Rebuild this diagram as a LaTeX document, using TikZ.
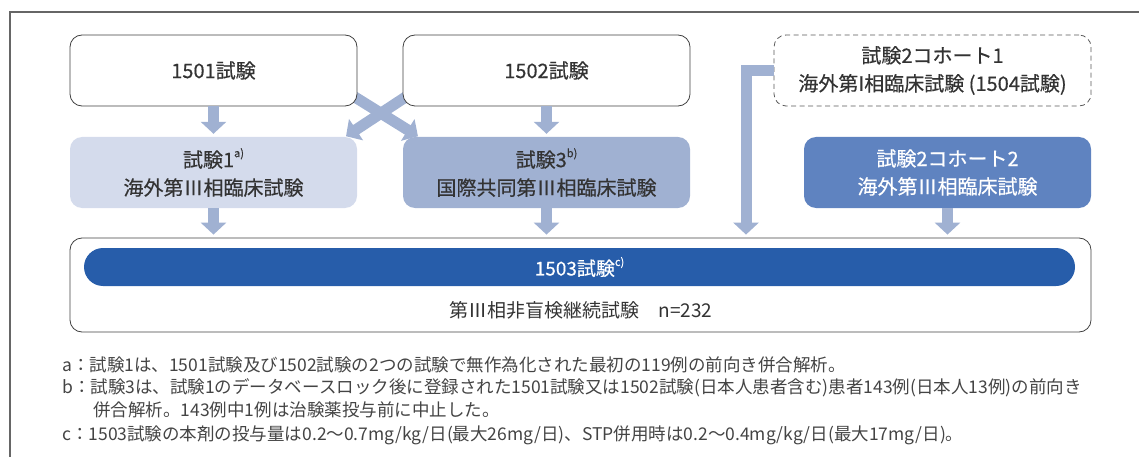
\documentclass[tikz,border=0pt]{standalone}
\usepackage{fontspec}
\setmainfont{Noto Sans CJK JP}
\newfontfamily\boxfont[FakeBold=0.4]{Noto Sans CJK JP}
\usetikzlibrary{arrows.meta,backgrounds}
\definecolor{paleblue}{HTML}{D4DBEC}
\definecolor{midblue}{HTML}{A0B1D2}
\definecolor{cohortblue}{HTML}{5F83C0}
\definecolor{barblue}{HTML}{275DAA}
\definecolor{textgray}{HTML}{333333}
\definecolor{notegray}{HTML}{444444}
\definecolor{framegray}{HTML}{666666}
\newcommand\supmark[1]{\raisebox{0.5em}{\fontsize{11}{11}\selectfont #1}}
\tikzset{
  trialbox/.style={rounded corners=12pt,minimum width=287pt,minimum height=71pt,
    align=center,text=textgray,font=\boxfont\fontsize{20}{28}\selectfont},
  whitebox/.style={trialbox,draw=black!75,line width=0.8pt,fill=white},
  flow/.style={draw=midblue,line width=11pt,-{Triangle[width=25pt,length=12pt]},shorten >=3pt},
  note/.style={anchor=west,inner sep=0pt,text=notegray,font=\fontsize{17.5}{20}\selectfont},
}
\begin{document}
\begin{tikzpicture}[x=1pt,y=-1pt]
\useasboundingbox (0,0) rectangle (1139,457);
\draw[framegray,line width=1.2pt] (10,457) -- (10,12) -- (1139,12);

\node[whitebox] (s1501) at (213.5,70.5) {1501試験};
\node[whitebox] (s1502) at (546.5,70.5) {1502試験};
\node[trialbox,draw=black!65,dash pattern=on 5pt off 3.5pt,line width=0.8pt,minimum width=317pt] (coh1) at (932.5,70.5) {試験2コホート1\\海外第I相臨床試験 (1504試験)};
\node[trialbox,fill=paleblue] (trial1) at (213.5,172.5) {試験1\supmark{a)}\\海外第Ⅲ相臨床試験};
\node[trialbox,fill=midblue] (trial3) at (546.5,172.5) {試験3\supmark{b)}\\国際共同第Ⅲ相臨床試験};
\node[trialbox,fill=cohortblue,text=white] (coh2) at (947.5,172.5) {試験2コホート2\\海外第Ⅲ相臨床試験};

\node[draw=black!75,line width=0.8pt,rounded corners=12pt,minimum width=1021pt,minimum height=94pt] (ext) at (580.5,285) {};
\node[fill=barblue,rounded corners=19pt,minimum width=991pt,minimum height=38pt,text=white,
  font=\boxfont\fontsize{19}{20}\selectfont] (bar) at (579.5,267) {1503試験\supmark{c)}};
\node[text=textgray,font=\fontsize{19}{20}\selectfont] (openlabel) at (581,310) {第Ⅲ相非盲検継続試験　n=232};

\begin{pgfonlayer}{background}
\draw[flow,shorten >=1pt] ([xshift=-10pt,yshift=14pt]s1501.south east) -- ([xshift=16pt]trial3.north west);
\draw[flow,shorten >=1pt] ([xshift=10pt,yshift=14pt]s1502.south west) -- ([xshift=-12pt]trial1.north east);
\end{pgfonlayer}
\draw[flow] (s1501) -- (trial1);
\draw[flow] (s1502) -- (trial3);
\draw[flow] (trial1.south) -- (trial1.south |- ext.north);
\draw[flow] (trial3.south) -- (trial3.south |- ext.north);
\draw[flow] (coh2.south) -- (coh2.south |- ext.north);
\coordinate (bend) at (746,71);
\draw[flow] (coh1.west |- bend) -- (bend) -- (bend |- ext.north);

\node[note] (notea) at (62,365) {a：試験1は、1501試験及び1502試験の2つの試験で無作為化された最初の119例の前向き併合解析。};
\node[note] (noteb) at (62,388) {b：試験3は、試験1のデータベースロック後に登録された1501試験又は1502試験(日本人患者含む)患者143例(日本人13例)の前向き};
\node[note] (noteb2) at (93,410) {併合解析。143例中1例は治験薬投与前に中止した。};
\node[note] (notec) at (62,435) {c：1503試験の本剤の投与量は0.2～0.7mg/kg/日(最大26mg/日)、STP併用時は0.2～0.4mg/kg/日(最大17mg/日)。};
\end{tikzpicture}
\end{document}
